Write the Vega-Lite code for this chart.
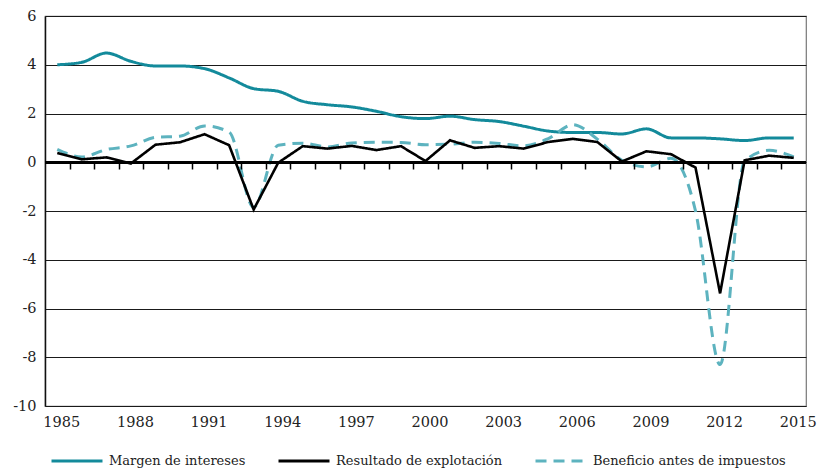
{
  "$schema": "https://vega.github.io/schema/vega-lite/v6.json",
  "width": 761,
  "height": 390,
  "autosize": "none",
  "padding": {"left": 45, "top": 16, "right": 12, "bottom": 66},
  "background": "white",
  "config": {
    "font": "DejaVu Serif",
    "view": {"stroke": "#777", "strokeWidth": 1.2},
    "axis": {"labelFont": "DejaVu Serif", "labelColor": "#222", "labelFontSize": 14.5},
    "legend": {"labelFont": "DejaVu Serif", "labelFontSize": 13, "labelColor": "#222", "labelLimit": 0}
  },
  "data": {
    "values": [
      {"year": 1985, "serie": "Margen de intereses", "value": 4.0},
      {"year": 1986, "serie": "Margen de intereses", "value": 4.1},
      {"year": 1987, "serie": "Margen de intereses", "value": 4.48},
      {"year": 1988, "serie": "Margen de intereses", "value": 4.14},
      {"year": 1989, "serie": "Margen de intereses", "value": 3.95},
      {"year": 1990, "serie": "Margen de intereses", "value": 3.95},
      {"year": 1991, "serie": "Margen de intereses", "value": 3.84},
      {"year": 1992, "serie": "Margen de intereses", "value": 3.46},
      {"year": 1993, "serie": "Margen de intereses", "value": 3.02},
      {"year": 1994, "serie": "Margen de intereses", "value": 2.91},
      {"year": 1995, "serie": "Margen de intereses", "value": 2.5},
      {"year": 1996, "serie": "Margen de intereses", "value": 2.36},
      {"year": 1997, "serie": "Margen de intereses", "value": 2.27},
      {"year": 1998, "serie": "Margen de intereses", "value": 2.09},
      {"year": 1999, "serie": "Margen de intereses", "value": 1.87},
      {"year": 2000, "serie": "Margen de intereses", "value": 1.79},
      {"year": 2001, "serie": "Margen de intereses", "value": 1.89},
      {"year": 2002, "serie": "Margen de intereses", "value": 1.75},
      {"year": 2003, "serie": "Margen de intereses", "value": 1.67},
      {"year": 2004, "serie": "Margen de intereses", "value": 1.48},
      {"year": 2005, "serie": "Margen de intereses", "value": 1.28},
      {"year": 2006, "serie": "Margen de intereses", "value": 1.22},
      {"year": 2007, "serie": "Margen de intereses", "value": 1.22},
      {"year": 2008, "serie": "Margen de intereses", "value": 1.16},
      {"year": 2009, "serie": "Margen de intereses", "value": 1.37},
      {"year": 2010, "serie": "Margen de intereses", "value": 1.0},
      {"year": 2011, "serie": "Margen de intereses", "value": 1.0},
      {"year": 2012, "serie": "Margen de intereses", "value": 0.96},
      {"year": 2013, "serie": "Margen de intereses", "value": 0.89},
      {"year": 2014, "serie": "Margen de intereses", "value": 1.0},
      {"year": 2015, "serie": "Margen de intereses", "value": 1.0},
      {"year": 1985, "serie": "Resultado de explotación", "value": 0.38},
      {"year": 1986, "serie": "Resultado de explotación", "value": 0.12},
      {"year": 1987, "serie": "Resultado de explotación", "value": 0.2},
      {"year": 1988, "serie": "Resultado de explotación", "value": -0.05},
      {"year": 1989, "serie": "Resultado de explotación", "value": 0.72},
      {"year": 1990, "serie": "Resultado de explotación", "value": 0.82},
      {"year": 1991, "serie": "Resultado de explotación", "value": 1.15},
      {"year": 1992, "serie": "Resultado de explotación", "value": 0.7},
      {"year": 1993, "serie": "Resultado de explotación", "value": -1.94},
      {"year": 1994, "serie": "Resultado de explotación", "value": -0.02},
      {"year": 1995, "serie": "Resultado de explotación", "value": 0.66},
      {"year": 1996, "serie": "Resultado de explotación", "value": 0.56},
      {"year": 1997, "serie": "Resultado de explotación", "value": 0.67},
      {"year": 1998, "serie": "Resultado de explotación", "value": 0.5},
      {"year": 1999, "serie": "Resultado de explotación", "value": 0.66},
      {"year": 2000, "serie": "Resultado de explotación", "value": 0.05},
      {"year": 2001, "serie": "Resultado de explotación", "value": 0.9},
      {"year": 2002, "serie": "Resultado de explotación", "value": 0.59},
      {"year": 2003, "serie": "Resultado de explotación", "value": 0.66},
      {"year": 2004, "serie": "Resultado de explotación", "value": 0.56},
      {"year": 2005, "serie": "Resultado de explotación", "value": 0.83},
      {"year": 2006, "serie": "Resultado de explotación", "value": 0.96},
      {"year": 2007, "serie": "Resultado de explotación", "value": 0.83},
      {"year": 2008, "serie": "Resultado de explotación", "value": 0.03},
      {"year": 2009, "serie": "Resultado de explotación", "value": 0.45},
      {"year": 2010, "serie": "Resultado de explotación", "value": 0.33},
      {"year": 2011, "serie": "Resultado de explotación", "value": -0.22},
      {"year": 2012, "serie": "Resultado de explotación", "value": -5.38},
      {"year": 2013, "serie": "Resultado de explotación", "value": 0.08},
      {"year": 2014, "serie": "Resultado de explotación", "value": 0.27},
      {"year": 2015, "serie": "Resultado de explotación", "value": 0.18},
      {"year": 1985, "serie": "Beneficio antes de impuestos", "value": 0.53},
      {"year": 1986, "serie": "Beneficio antes de impuestos", "value": 0.22},
      {"year": 1987, "serie": "Beneficio antes de impuestos", "value": 0.52},
      {"year": 1988, "serie": "Beneficio antes de impuestos", "value": 0.67},
      {"year": 1989, "serie": "Beneficio antes de impuestos", "value": 1.02},
      {"year": 1990, "serie": "Beneficio antes de impuestos", "value": 1.07},
      {"year": 1991, "serie": "Beneficio antes de impuestos", "value": 1.49},
      {"year": 1992, "serie": "Beneficio antes de impuestos", "value": 1.24},
      {"year": 1993, "serie": "Beneficio antes de impuestos", "value": -1.85},
      {"year": 1994, "serie": "Beneficio antes de impuestos", "value": 0.7},
      {"year": 1995, "serie": "Beneficio antes de impuestos", "value": 0.78},
      {"year": 1996, "serie": "Beneficio antes de impuestos", "value": 0.63},
      {"year": 1997, "serie": "Beneficio antes de impuestos", "value": 0.79},
      {"year": 1998, "serie": "Beneficio antes de impuestos", "value": 0.82},
      {"year": 1999, "serie": "Beneficio antes de impuestos", "value": 0.81},
      {"year": 2000, "serie": "Beneficio antes de impuestos", "value": 0.72},
      {"year": 2001, "serie": "Beneficio antes de impuestos", "value": 0.74},
      {"year": 2002, "serie": "Beneficio antes de impuestos", "value": 0.82},
      {"year": 2003, "serie": "Beneficio antes de impuestos", "value": 0.77},
      {"year": 2004, "serie": "Beneficio antes de impuestos", "value": 0.67},
      {"year": 2005, "serie": "Beneficio antes de impuestos", "value": 0.97},
      {"year": 2006, "serie": "Beneficio antes de impuestos", "value": 1.54},
      {"year": 2007, "serie": "Beneficio antes de impuestos", "value": 0.95},
      {"year": 2008, "serie": "Beneficio antes de impuestos", "value": 0.08},
      {"year": 2009, "serie": "Beneficio antes de impuestos", "value": -0.19},
      {"year": 2010, "serie": "Beneficio antes de impuestos", "value": 0.16},
      {"year": 2011, "serie": "Beneficio antes de impuestos", "value": -2.0},
      {"year": 2012, "serie": "Beneficio antes de impuestos", "value": -8.3},
      {"year": 2013, "serie": "Beneficio antes de impuestos", "value": 0.05},
      {"year": 2014, "serie": "Beneficio antes de impuestos", "value": 0.49},
      {"year": 2015, "serie": "Beneficio antes de impuestos", "value": 0.22}
    ]
  },
  "resolve": {"axis": {"x": "independent"}},
  "layer": [
    {
      "encoding": {
        "x": {
          "field": "year", "type": "quantitative",
          "scale": {"domain": [1984.5, 2015.5], "nice": false, "zero": false},
          "axis": {"title": null, "values": [1985, 1988, 1991, 1994, 1997, 2000, 2003, 2006, 2009, 2012, 2015], "format": "d", "grid": false, "domain": false, "ticks": false, "labelPadding": 9, "labelOffset": 4, "labelFlush": false}
        },
        "y": {
          "field": "value", "type": "quantitative",
          "scale": {"domain": [-10, 6], "nice": false, "zero": false},
          "axis": {"title": null, "values": [-10, -8, -6, -4, -2, 0, 2, 4, 6], "labelExpr": "replace(datum.label, '−', '-')", "grid": true, "gridColor": "#1a1a1a", "gridWidth": 1, "ticks": false, "labelPadding": 9, "domainColor": "#111", "domainWidth": 1.5}
        },
        "color": {
          "field": "serie", "type": "nominal",
          "scale": {"domain": ["Margen de intereses", "Resultado de explotación", "Beneficio antes de impuestos"], "range": ["#138a9b", "#000000", "#5db3bf"]},
          "legend": {"title": null, "orient": "none", "legendX": 5, "legendY": 418, "direction": "horizontal", "columns": 3, "symbolType": "stroke", "symbolSize": 2600, "symbolStrokeWidth": 3, "labelOffset": 5, "columnPadding": 26}
        },
        "strokeDash": {
          "field": "serie", "type": "nominal",
          "scale": {"domain": ["Margen de intereses", "Resultado de explotación", "Beneficio antes de impuestos"], "range": [[1, 0], [1, 0], [11, 7]]},
          "legend": null
        },
        "order": {"field": "year"}
      },
      "layer": [
        {
          "transform": [{"filter": "datum.serie !== 'Resultado de explotación'"}],
          "mark": {"type": "line", "interpolate": "monotone", "strokeWidth": 3, "strokeCap": "butt"}
        },
        {
          "transform": [{"filter": "datum.serie === 'Resultado de explotación'"}],
          "mark": {"type": "line", "interpolate": "linear", "strokeWidth": 2.6, "strokeCap": "butt"}
        }
      ]
    },
    {
      "mark": {"type": "rule", "color": "#000", "strokeWidth": 2.2},
      "encoding": {
        "x": {
          "datum": 1984.5, "type": "quantitative",
          "axis": {"title": null, "orient": "top", "zindex": 2, "values": [1985.5, 1986.5, 1987.5, 1988.5, 1989.5, 1990.5, 1991.5, 1992.5, 1993.5, 1994.5, 1995.5, 1996.5, 1997.5, 1998.5, 1999.5, 2000.5, 2001.5, 2002.5, 2003.5, 2004.5, 2005.5, 2006.5, 2007.5, 2008.5, 2009.5, 2010.5, 2011.5, 2012.5, 2013.5, 2014.5], "labels": false, "domain": false, "grid": false, "ticks": true, "tickSize": 7, "tickColor": "#000", "tickWidth": 1.5, "tickOpacity": 1, "offset": -153}
        },
        "x2": {"datum": 2015.5},
        "y": {"datum": 0, "type": "quantitative"}
      }
    }
  ]
}
